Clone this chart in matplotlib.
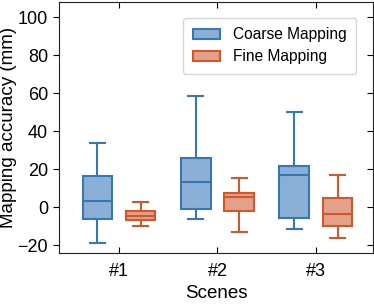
import matplotlib
matplotlib.use("Agg")
import matplotlib.pyplot as plt
from matplotlib.patches import Patch

plt.rcParams['font.family'] = ['Liberation Sans', 'DejaVu Sans']

scenes = ['#1', '#2', '#3']
# whisker low, Q1, median, Q3, whisker high (mm)
coarse = [
    [-18.6, -6.2, 3.3, 16.6, 33.8],
    [-6.2, -1.1, 13.6, 25.8, 58.5],
    [-11.3, -5.5, 16.8, 21.6, 50.2],
]
fine = [
    [-9.9, -6.9, -4.4, -2.0, 3.0],
    [-13.1, -1.8, 5.5, 7.4, 15.5],
    [-16.1, -9.7, -3.6, 5.1, 16.8],
]

blue = '#3a75b4'
blue_fill = '#8bb0d7'
red = '#d4562b'
red_fill = '#e3a18b'


def to_stats(rows):
    return [dict(whislo=r[0], q1=r[1], med=r[2], q3=r[3], whishi=r[4]) for r in rows]


fig = plt.figure(figsize=(3.74, 3.04), dpi=100)
ax = fig.add_axes([59 / 374, 1 - 253 / 304, 314 / 374, 251 / 304])

pos = [1, 2, 3]
for data, off, ec, fc in [(coarse, -0.22, blue, blue_fill), (fine, 0.22, red, red_fill)]:
    ax.bxp(to_stats(data), positions=[p + off for p in pos], widths=0.3,
           showfliers=False, patch_artist=True,
           boxprops=dict(facecolor=fc, edgecolor=ec, linewidth=1.5),
           whiskerprops=dict(color=ec, linewidth=1.5),
           capprops=dict(color=ec, linewidth=1.5),
           medianprops=dict(color=ec, linewidth=1.5))

ax.set_xlim(0.39, 3.58)
ax.set_ylim(-24, 108)
ax.set_xticks(pos)
ax.set_xticklabels(scenes)
ax.set_yticks([-20, 0, 20, 40, 60, 80, 100])
ax.tick_params(axis='y', direction='out', labelsize=13, right=True, length=4, pad=4)
ax.tick_params(axis='x', direction='in', labelsize=13, top=True, length=4, pad=7)
for t in ax.yaxis.get_major_ticks():
    t.tick2line.set_marker(matplotlib.lines.TICKLEFT)
ax.set_xlabel('Scenes', fontsize=13.5, labelpad=4)
ax.set_ylabel('Mapping accuracy (mm)', fontsize=13.5, labelpad=0)
for s in ax.spines.values():
    s.set_color('#222222')

handles = [Patch(facecolor=blue_fill, edgecolor=blue, linewidth=1.5, label='Coarse Mapping'),
           Patch(facecolor=red_fill, edgecolor=red, linewidth=1.5, label='Fine Mapping')]
leg = ax.legend(handles=handles, loc='upper right', bbox_to_anchor=(0.946, 0.936),
                borderaxespad=0, fontsize=11.2, frameon=True, fancybox=True,
                edgecolor='#cccccc', handlelength=1.75, handletextpad=0.85,
                borderpad=0.6, labelspacing=0.45)

fig.savefig('out.png', dpi=100)
